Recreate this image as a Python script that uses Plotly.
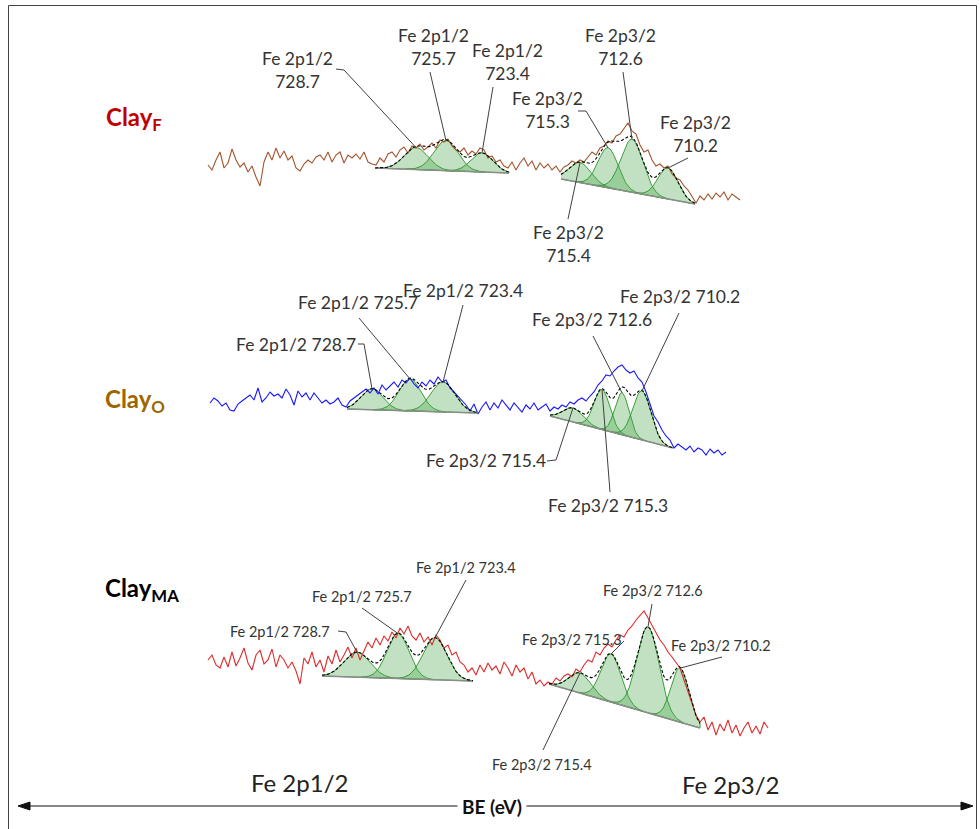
import plotly.graph_objects as go
import math

STEP = 4  # channel spacing of the recorded points

# ---------------- spectra (counts, a.u.) ----------------
F_start = 208
F_counts = [85, 80, 90, 98, 82, 87, 101, 90, 83, 87, 78, 84, 73, 64, 88, 98, 90, 102, 92, 99,
            90, 94, 82, 79, 86, 90, 87, 93, 95, 90, 98, 88, 95, 98, 87, 95, 92, 96, 91, 98,
            88, 86, 85, 92, 88, 96, 98, 93, 100, 103, 97, 104, 102, 106, 100, 103, 107, 102, 110, 108,
            111, 104, 100, 98, 102, 95, 99, 96, 102, 100, 92, 94, 88, 90, 84, 82, 88, 80, 87, 92,
            84, 89, 80, 87, 82, 86, 80, 84, 78, 83, 85, 89, 87, 90, 88, 93, 98, 95, 102, 104,
            109, 107, 114, 116, 122, 127, 119, 116, 105, 98, 100, 90, 84, 86, 82, 84, 76, 72, 70, 64,
            60, 54, 47, 54, 50, 56, 51, 57, 53, 58, 50, 56, 53, 50]

O_start = 210
O_counts = [87, 92, 89, 84, 87, 80, 79, 86, 89, 92, 95, 90, 102, 88, 92, 98, 94, 96, 92, 101,
            95, 85, 99, 93, 97, 90, 97, 92, 87, 90, 86, 88, 92, 85, 83, 89, 92, 95, 98, 101,
            97, 102, 96, 105, 100, 104, 108, 103, 110, 107, 112, 106, 102, 108, 104, 110, 106, 113, 108, 110,
            102, 98, 94, 90, 85, 79, 86, 76, 83, 88, 80, 87, 82, 90, 85, 80, 87, 83, 78, 85,
            81, 87, 80, 83, 86, 79, 83, 81, 85, 83, 88, 86, 90, 92, 89, 94, 98, 105, 109, 115,
            114, 119, 123, 125, 120, 117, 119, 112, 108, 98, 86, 74, 68, 60, 54, 50, 42, 46, 43, 40,
            44, 38, 42, 40, 35, 41, 37, 40, 35, 38]

MA_start = 208
MA_counts = [90, 95, 85, 82, 93, 83, 98, 84, 92, 102, 87, 80, 95, 100, 86, 90, 101, 83, 95, 90,
             82, 88, 79, 66, 92, 86, 98, 83, 90, 78, 94, 86, 100, 88, 95, 103, 92, 102, 90, 100,
             108, 102, 112, 105, 114, 109, 118, 112, 122, 116, 124, 114, 110, 117, 108, 113, 105, 115, 110, 102,
             105, 95, 98, 88, 85, 78, 82, 75, 85, 78, 87, 80, 84, 76, 88, 82, 74, 85, 78, 82,
             71, 78, 66, 70, 64, 68, 66, 72, 69, 74, 76, 73, 81, 78, 85, 90, 88, 98, 95, 102,
             106, 103, 110, 115, 113, 120, 124, 130, 135, 139, 132, 125, 118, 110, 105, 98, 93, 87, 82, 70,
             58, 46, 35, 28, 33, 20, 28, 15, 26, 19, 30, 17, 25, 14, 22, 28, 17, 24, 16, 28, 22]

# ---------------- fitted components: (centre channel, height, width) ----------------
P12 = ["Fe 2p1/2 728.7", "Fe 2p1/2 725.7", "Fe 2p1/2 723.4"]
P32 = ["Fe 2p3/2 715.4", "Fe 2p3/2 715.3", "Fe 2p3/2 712.6", "Fe 2p3/2 710.2"]

F_fit = [dict(x0=375, x1=509, b0=82, b1=77, peaks=[(416, 22, 12), (446, 30, 12), (482, 19, 11)]),
         dict(x0=561, x1=695, b0=71, b1=46, peaks=[(580, 20, 11), (608, 40, 10), (632, 53, 11), (668, 31, 10)])]
O_fit = [dict(x0=347, x1=478, b0=81, b1=77, peaks=[(372, 21, 11), (410, 32, 11), (443, 30, 12)]),
         dict(x0=550, x1=673, b0=74, b1=42, peaks=[(573, 14, 10), (602, 40, 8), (622, 42, 7), (642, 49, 9)])]
MA_fit = [dict(x0=322, x1=473, b0=74, b1=69, peaks=[(357, 25, 13), (398, 45, 11), (435, 42, 12)]),
          dict(x0=549, x1=700, b0=66, b1=22, peaks=[(580, 20, 11), (611, 48, 10), (648, 86, 11), (680, 54, 9)])]

H = 829  # figure height (px) -> y axis spans 0..H

spectra = [
    dict(key="F", start=F_start, counts=F_counts, fit=F_fit, offset=579, color="rgb(163,85,45)",
         label="<b>Clay<sub>F</sub></b>", label_color="#C00000", label_pos=(134, 118), font=17.5,
         # (peak name, text, text x, text y(px from top), pointer start points)
         notes=[("Fe 2p1/2 728.7", "Fe 2p1/2<br>728.7", 297, 70, [(336, 69), (344, 70)]),
                ("Fe 2p1/2 725.7", "Fe 2p1/2<br>725.7", 433, 47, [(430, 72)]),
                ("Fe 2p1/2 723.4", "Fe 2p1/2<br>723.4", 507, 62, [(493, 87)]),
                ("Fe 2p3/2 715.3", "Fe 2p3/2<br>715.3", 547, 110, [(578, 111), (586, 111)]),
                ("Fe 2p3/2 712.6", "Fe 2p3/2<br>712.6", 620, 47, [(623, 72)]),
                ("Fe 2p3/2 710.2", "Fe 2p3/2<br>710.2", 695, 134, [(688, 158)]),
                ("Fe 2p3/2 715.4", "Fe 2p3/2<br>715.4", 568, 244, [(568, 219)])]),
    dict(key="O", start=O_start, counts=O_counts, fit=O_fit, offset=339, color="rgb(25,25,255)",
         label="<b>Clay<sub>O</sub></b>", label_color="#9C6500", label_pos=(135, 400), font=17.5,
         notes=[("Fe 2p1/2 728.7", "Fe 2p1/2 728.7", 296, 344, [(358, 344), (364, 344)]),
                ("Fe 2p1/2 725.7", "Fe 2p1/2 725.7", 358, 302, [(359, 318)]),
                ("Fe 2p1/2 723.4", "Fe 2p1/2 723.4", 463, 290, [(463, 305)]),
                ("Fe 2p3/2 712.6", "Fe 2p3/2 712.6", 592, 319, [(593, 336)]),
                ("Fe 2p3/2 710.2", "Fe 2p3/2 710.2", 680, 296, [(679, 313)]),
                ("Fe 2p3/2 715.4", "Fe 2p3/2 715.4", 486, 460, [(547, 461), (556, 460)]),
                ("Fe 2p3/2 715.3", "Fe 2p3/2 715.3", 608, 505, [(610, 492)])]),
    dict(key="MA", start=MA_start, counts=MA_counts, fit=MA_fit, offset=79, color="rgb(222,45,45)",
         label="<b>Clay<sub>MA</sub></b>", label_color="#000000", label_pos=(142, 589), font=14.5,
         notes=[("Fe 2p1/2 728.7", "Fe 2p1/2 728.7", 280, 631, [(338, 631), (346, 632)]),
                ("Fe 2p1/2 725.7", "Fe 2p1/2 725.7", 362, 596, [(362, 608)]),
                ("Fe 2p1/2 723.4", "Fe 2p1/2 723.4", 466, 567, [(466, 580)]),
                ("Fe 2p3/2 715.3", "Fe 2p3/2 715.3", 572, 639, [(624, 641)]),
                ("Fe 2p3/2 712.6", "Fe 2p3/2 712.6", 653, 590, [(652, 604)]),
                ("Fe 2p3/2 710.2", "Fe 2p3/2 710.2", 721, 645, [(722, 657)]),
                ("Fe 2p3/2 715.4", "Fe 2p3/2 715.4", 542, 764, [(543, 750)])]),
]

TEXT_COLOR = "#333333"
FONT = "Lato, 'Open Sans', sans-serif"

fig = go.Figure()
annotations = []
shapes = []


def base(region, x):
    t = (x - region["x0"]) / (region["x1"] - region["x0"])
    return region["b0"] + t * (region["b1"] - region["b0"])


for sp in spectra:
    off = sp["offset"]
    peak_top = {}
    # fitted components (filled)
    for ri, reg in enumerate(sp["fit"]):
        names = P12 if ri == 0 else P32
        for (c, h, w), nm in zip(reg["peaks"], names):
            lo = max(reg["x0"], int(c - 3.3 * w))
            hi = min(reg["x1"], int(c + 3.3 * w))
            xs = list(range(lo, hi + 1))
            top = [off + base(reg, x) + h * math.exp(-0.5 * ((x - c) / w) ** 2) for x in xs]
            bot = [off + base(reg, x) for x in xs]
            fig.add_trace(go.Scatter(x=xs + xs[::-1], y=top + bot[::-1], mode="lines",
                                     fill="toself", fillcolor="rgba(70,165,70,0.33)",
                                     line=dict(color="rgba(40,150,40,0.9)", width=1),
                                     hoverinfo="skip", showlegend=False))
            peak_top[nm] = (c, off + base(reg, c) + h)
    # measured spectrum
    xs = [sp["start"] + STEP * i for i in range(len(sp["counts"]))]
    ys = [off + v for v in sp["counts"]]
    fig.add_trace(go.Scatter(x=xs, y=ys, mode="lines", line=dict(color=sp["color"], width=1.1),
                             hoverinfo="skip", showlegend=False))
    # envelope + background
    for reg in sp["fit"]:
        ex = list(range(reg["x0"], reg["x1"] + 1))
        env = [off + base(reg, x) + sum(h * math.exp(-0.5 * ((x - c) / w) ** 2) for c, h, w in reg["peaks"])
               for x in ex]
        fig.add_trace(go.Scatter(x=[reg["x0"], reg["x1"]], y=[off + reg["b0"], off + reg["b1"]],
                                 mode="lines", line=dict(color="rgb(140,140,140)", width=1.6),
                                 hoverinfo="skip", showlegend=False))
        fig.add_trace(go.Scatter(x=ex, y=env, mode="lines",
                                 line=dict(color="black", width=1.1, dash="3px,2px"),
                                 hoverinfo="skip", showlegend=False))
    # labels + pointer lines
    for nm, txt, tx, ty, pts in sp["notes"]:
        annotations.append(dict(x=tx, y=H - ty, text=txt, showarrow=False, xanchor="center", yanchor="middle",
                                font=dict(family=FONT, size=sp["font"], color=TEXT_COLOR)))
        px, py = peak_top[nm]
        path = "M " + " L ".join(f"{x},{H - y}" for x, y in pts) + f" L {px},{py}"
        shapes.append(dict(type="path", path=path, xref="x", yref="y",
                           line=dict(color="#404040", width=1)))
    lx, ly = sp["label_pos"]
    annotations.append(dict(x=lx, y=H - ly, text=sp["label"], showarrow=False, xanchor="center",
                            yanchor="middle", font=dict(family=FONT, size=24, color=sp["label_color"])))

# bottom region labels
annotations.append(dict(x=299, y=H - 782, text="Fe 2p1/2", showarrow=False,
                        font=dict(family=FONT, size=24, color="#222222")))
annotations.append(dict(x=730, y=H - 784, text="Fe 2p3/2", showarrow=False,
                        font=dict(family=FONT, size=24, color="#222222")))
# BE axis double arrow
AY = H - 806
shapes.append(dict(type="line", x0=24, x1=966, y0=AY, y1=AY, xref="x", yref="y",
                   line=dict(color="#111111", width=1.2)))
shapes.append(dict(type="path", path=f"M 18,{AY} L 30,{AY + 4} L 30,{AY - 4} Z", xref="x", yref="y",
                   fillcolor="#111111", line=dict(color="#111111", width=1)))
shapes.append(dict(type="path", path=f"M 973,{AY} L 961,{AY + 4} L 961,{AY - 4} Z", xref="x", yref="y",
                   fillcolor="#111111", line=dict(color="#111111", width=1)))
annotations.append(dict(x=492, y=AY, text="<b>BE (eV)</b>", showarrow=False, bgcolor="white",
                        borderpad=4, font=dict(family=FONT, size=19, color="#111111")))
# frame
shapes.append(dict(type="rect", x0=8.5, x1=976.5, y0=-10, y1=H - 5.5, xref="x", yref="y",
                   line=dict(color="#444444", width=1)))

fig.update_layout(
    width=980, height=829, margin=dict(l=0, r=0, t=0, b=0),
    paper_bgcolor="white", plot_bgcolor="white",
    xaxis=dict(range=[0, 980], visible=False, fixedrange=True),
    yaxis=dict(range=[0, H], visible=False, fixedrange=True),
    annotations=annotations, shapes=shapes, showlegend=False,
)

fig.write_html("out.html", config={"displayModeBar": False},
               post_script="document.body.style.margin='0px';document.body.style.overflow='hidden';")
